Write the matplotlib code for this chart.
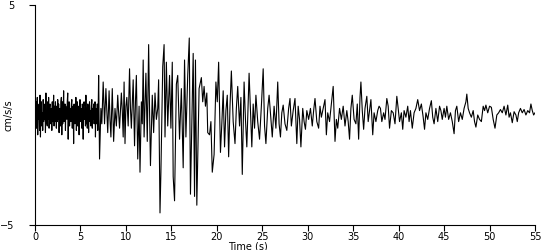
import matplotlib
matplotlib.use("Agg")
import matplotlib.pyplot as plt

# early part of the record (0-7 s), 0.05 s samples
early_step = 0.05
early_acc = [
    0.3, -0.4, 0.6, -0.6, 0.2, 0.8, -0.9, 0.4, -0.2, 0.5,
    -0.7, 0.9, -1.0, 0.3, 0.6, -0.5, 0.1, -0.7, 0.7, -0.3,
    0.5, -0.2, 0.4, -0.8, 1.0, -0.4, 0.2, -0.5, 0.6, -0.2,
    0.8, -0.6, 0.3, 0.5, -0.4, 0.1, 0.3, -0.7, 0.6, -0.3,
    0.2, 0.9, -0.5, 0.4, -0.3, 0.6, 0.1, -0.6, 0.4, -0.3,
    0.7, -0.2, 0.5, -0.8, 0.2, 0.3, -0.5, 0.6, 0.8, -0.9,
    0.6, -0.4, 0.2, 1.1, -0.3, 0.4, 0.5, -0.7, 0.4, 0.1,
    -0.2, 0.6, 1.0, -1.1, 0.3, 0.6, -0.5, 0.2, 0.3, -0.3,
    0.5, 0.7, -0.6, 0.2, 0.4, -1.3, 0.5, 0.1, -0.4, 0.3,
    0.8, -0.7, 0.2, 0.6, -0.5, 0.3, 0.4, -0.9, 0.2, 0.7,
    -0.3, 0.1, 0.3, -0.6, 0.5, 0.2, -1.1, 0.4, 0.6, -0.2,
    0.2, -0.5, 0.9, -0.4, 0.3, -0.6, 0.5, 0.1, -0.8, 0.4,
    0.6, -0.3, 0.2, -0.5, 0.4, 0.7, -0.6, 0.3, -0.2, 0.5,
    -0.4, 0.2, 0.6, -1.0, 0.3, 0.1, -0.4, 0.5, -0.7, 0.2,
]

# later part: turning points (time, cm/s/s)
peak_t = [
    7.0, 7.1, 7.25, 7.35, 7.5, 7.65, 7.8, 7.9, 8.0, 8.15, 8.25, 8.35, 8.5,
    8.65, 8.8, 8.95, 9.1, 9.2, 9.3, 9.5, 9.6, 9.7, 9.8, 9.9, 10.0, 10.1,
    10.25, 10.4, 10.5, 10.6, 10.7, 10.8, 10.95, 11.05, 11.15, 11.3, 11.45,
    11.55, 11.7, 11.8, 11.9, 12.0, 12.1, 12.2, 12.35, 12.5, 12.6, 12.7,
    12.9, 13.05, 13.2, 13.35, 13.5, 13.6, 13.75, 13.85, 14.05, 14.2, 14.3,
    14.45, 14.6, 14.8, 14.95, 15.1, 15.2, 15.35, 15.55, 15.7, 15.9, 16.1,
    16.3, 16.45, 16.6, 16.8, 16.97, 17.1, 17.4, 17.55, 17.65, 17.8, 18.05,
    18.3, 18.45, 18.6, 18.75, 18.9,
    19.0, 19.2, 19.35, 19.5, 19.7, 19.9, 20.05, 20.2, 20.4, 20.55, 20.7,
    20.85, 21.0, 21.15, 21.3, 21.45, 21.6, 21.8, 22.0, 22.15, 22.3, 22.5,
    22.65, 22.8, 23.0, 23.15, 23.3, 23.55, 23.7, 23.85, 24.0, 24.15, 24.3,
    24.5, 24.7, 24.9, 25.1, 25.25, 25.4, 25.6, 25.75, 25.95, 26.1, 26.3,
    26.5, 26.7, 26.85, 27.0, 27.15, 27.3, 27.5, 27.7, 27.9, 28.05, 28.2,
    28.4, 28.6, 28.8, 28.95, 29.1, 29.25, 29.45, 29.6, 29.75, 29.9, 30.1,
    30.3, 30.5, 30.65, 30.8, 31.0, 31.2, 31.35, 31.5, 31.7, 31.9, 32.05,
    32.2, 32.4, 32.6, 32.8, 33.0, 33.15, 33.3, 33.5, 33.7, 33.9, 34.1,
    34.3, 34.45, 34.6, 34.75, 34.9, 35.1, 35.3, 35.45, 35.6, 35.75, 35.85,
    36.0, 36.15, 36.3, 36.5, 36.65, 36.8, 36.95, 37.15, 37.3, 37.5, 37.7,
    37.85, 38.0, 38.15, 38.35, 38.5, 38.7, 38.85, 39.0, 39.2, 39.4, 39.6,
    39.8, 39.95, 40.1, 40.3, 40.45, 40.6, 40.8, 41.0, 41.15, 41.3, 41.5,
    41.7, 41.9, 42.1, 42.3, 42.5, 42.7, 42.85, 43.0, 43.2, 43.4, 43.6,
    43.75, 43.9, 44.1, 44.3, 44.5, 44.65, 44.8, 45.0, 45.15, 45.3, 45.5,
    45.7, 45.9, 46.1, 46.25, 46.4, 46.6, 46.8, 47.0, 47.2, 47.4, 47.5,
    47.65, 47.8, 48.0, 48.2, 48.35, 48.5, 48.7, 48.9, 49.1, 49.3, 49.45,
    49.6, 49.8, 50.0, 50.2, 50.4, 50.6, 50.8, 51.0, 51.2, 51.4, 51.6,
    51.8, 52.0, 52.15, 52.3, 52.5, 52.7, 52.9, 53.05, 53.2, 53.4, 53.6,
    53.8, 54.0, 54.2, 54.4, 54.55, 54.7, 54.85, 55.0,
]
peak_acc = [
    1.8, -2.0, 0.3, -0.4, 1.5, -0.4, 1.2, 0.2, -0.8, 1.1, -0.2, -1.0, 1.2,
    -1.2, 0.3, -0.5, 0.9, 0.1, -0.6, 1.0, 0.2, -1.0, 1.5, -1.3, 0.4, 0.8,
    -0.5, 2.1, 0.3, -0.6, 0.5, 1.6, -1.4, 0.6, 1.8, -2.0, 0.4,
    -2.6, 0.6, -0.4, 2.5, -1.0, 0.5, 1.9, -1.2, 3.2, 0.2, -2.3,
    0.9, -0.8, 1.0, -0.2, 0.3, 1.6, -4.45, -2.6, 2.2, 3.2, -1.0,
    2.4, -0.5, 1.8, -0.6, 2.4, -2.8, -3.9, 1.4, 1.8, -1.1, 1.2,
    -2.4, 2.5, -1.0, 1.8, 3.5, -3.6, 2.8, -3.7, 2.5, -4.1, 1.2,
    1.7, 0.6, 1.3, 0.4, 1.0,
    -0.8, -0.9, -0.3, -2.6, -1.8, 1.5, 0.6, 2.4, -1.7, -0.4, 1.1,
    -1.45, 0.2, 0.9, -1.9, 0.4, 2.0, -0.3, -1.3, 0.3, 1.3, -0.5,
    0.8, -2.7, 1.5, -0.2, -1.45, 1.9, 0.2, -1.45, 0.5, -0.6, 0.9,
    -0.3, -1.1, 0.4, 2.1, -0.5, -1.3, 0.3, 0.9, -0.2, -1.0, 0.4,
    -0.6, 1.5, -0.4, -1.0, 0.1, 0.45, -0.4, -0.7, 0.3, 0.75, -0.5,
    0.2, 0.75, -1.3, 0.4, -0.2, -1.45, 0.3, -0.3, -0.65, 0.2, -0.2,
    0.3, -0.5, 0.2, 0.75, -0.3, -0.6, 0.4, -0.1, 0.3, 0.7, -0.9,
    0.1, -0.3, 0.5, 1.3, -1.2, -0.2, -0.6, 0.3, -0.2, 0.4, -0.5,
    0.2, -0.3, -1.1, 0.3, 0.9, -0.2, -0.4, 0.5, -1.1, 0.8, 1.5,
    0.2, -0.65, 0.3, 0.85, -0.3, 0.2, 0.7, -0.9, 0.1, -0.3, 0.2,
    0.4, 0.3, -0.3, 0.1, -0.2, 0.75, 0.4, -0.6, 0.2, 0.1, -0.4,
    0.85, 0.3, -0.3, 0.1, -0.65, 0.2, -0.1, 0.4, -0.3, 0.2, -0.6,
    0.1, 0.3, 0.7, 0.2, 0.5, -0.1, -0.65, 0.1, -0.2, 0.3, 0.65,
    -0.1, -0.4, 0.3, -0.3, 0.4, 0.2, -0.2, 0.3, -0.1, 0.4, -0.2,
    0.1, -0.3, -0.85, 0.2, 0.4, -0.3, 0.1, -0.2, 0.3, 0.6, 0.95,
    0.3, 0.1, -0.1, 0.2, -0.3, -0.55, 0.0, -0.2, -0.3, 0.4, 0.2,
    0.45, 0.1, 0.4, 0.35, -0.2, -0.6, 0.0, 0.1, 0.25, 0.1, 0.4,
    0.0, 0.45, -0.1, 0.1, -0.35, 0.15, 0.0, -0.3, 0.1, 0.3, 0.1,
    0.25, 0.0, 0.2, 0.1, 0.5, 0.2, 0.0, 0.1,
]

x_ticks = [0, 5, 10, 15, 20, 25, 30, 35, 40, 45, 50, 55]
y_ticks = [-5, 5]

early_t = [i * early_step for i in range(len(early_acc))]
t = early_t + peak_t
acc = early_acc + peak_acc

fig = plt.figure(figsize=(5.5, 2.5), dpi=100)
ax = fig.add_axes([35 / 550, 0.1, 500 / 550, 0.88])

ax.plot(t, acc, color="black", linewidth=0.8)

ax.set_xlim(0, 55)
ax.set_ylim(-5, 5)
ax.set_xticks(x_ticks)
ax.set_yticks(y_ticks)
ax.tick_params(axis="both", labelsize=7, length=4, width=0.8, direction="out", pad=1)
ax.tick_params(axis="y", pad=11)

for side in ["top", "right"]:
    ax.spines[side].set_visible(False)
for side in ["left", "bottom"]:
    ax.spines[side].set_linewidth(0.8)

ax.set_xlabel("Time (s)", fontsize=7)
ax.xaxis.set_label_coords((248 - 35) / 500, -0.075)
ax.set_ylabel("cm/s/s", fontsize=7)
ax.yaxis.set_label_coords(-0.042, 0.5)

fig.savefig("out.png", dpi=100)
